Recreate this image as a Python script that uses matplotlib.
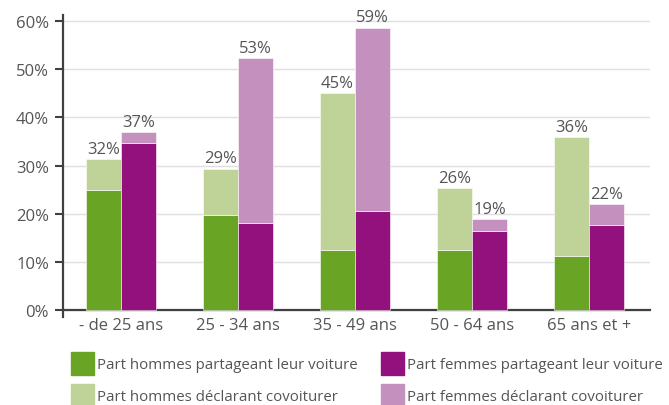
import numpy as np
import matplotlib
matplotlib.use("Agg")
import matplotlib.pyplot as plt
from matplotlib.patches import Patch

categories = ["- de 25 ans", "25 - 34 ans", "35 - 49 ans", "50 - 64 ans", "65 ans et +"]
men_share = [25.0, 19.8, 12.5, 12.5, 11.3]
men_total = [31.4, 29.4, 45.0, 25.4, 36.0]
women_share = [34.7, 18.1, 20.6, 16.5, 17.7]
women_total = [37.0, 52.3, 58.7, 18.9, 22.0]
men_labels = ["32%", "29%", "45%", "26%", "36%"]
women_labels = ["37%", "53%", "59%", "19%", "22%"]

GREEN = "#6aa425"
LGREEN = "#bfd298"
PURPLE = "#93117c"
LPURPLE = "#c491be"
TXT = "#555555"
AXC = "#404040"

plt.rcParams["font.family"] = ["Open Sans", "DejaVu Sans"]

fig = plt.figure(figsize=(6.69, 4.06), dpi=100)
ax = fig.add_axes([62.7 / 669, 1 - 318 / 406, (650 - 62.7) / 669, (318 - 16) / 406])

x = np.arange(len(categories))
w = 0.3
men_extra = np.array(men_total) - np.array(men_share)
women_extra = np.array(women_total) - np.array(women_share)

ax.bar(x - w / 2, men_share, w, color=GREEN, edgecolor="white", linewidth=0.4, zorder=3)
ax.bar(x - w / 2, men_extra, w, bottom=men_share, color=LGREEN, edgecolor="white", linewidth=0.4, zorder=3)
ax.bar(x + w / 2, women_share, w, color=PURPLE, edgecolor="white", linewidth=0.4, zorder=3)
ax.bar(x + w / 2, women_extra, w, bottom=women_share, color=LPURPLE, edgecolor="white", linewidth=0.4, zorder=3)

for i in range(len(categories)):
    ax.annotate(men_labels[i], (x[i] - w / 2, men_total[i]), xytext=(0, 1.5),
                textcoords="offset points", ha="center", va="bottom", fontsize=12, color=TXT)
    ax.annotate(women_labels[i], (x[i] + w / 2, women_total[i]), xytext=(0, 1.5),
                textcoords="offset points", ha="center", va="bottom", fontsize=12, color=TXT)

ax.set_xlim(-0.498, 4.52)
ax.set_ylim(-1.46, 61.3)
ax.set_yticks(range(0, 61, 10))
ax.set_yticklabels([f"{v}%" for v in range(0, 61, 10)])
ax.set_xticks(x)
ax.set_xticklabels(categories)
ax.tick_params(axis="y", length=5.5, width=1.5, color=AXC, pad=4.3, labelsize=12, labelcolor=TXT)
ax.tick_params(axis="x", length=0, pad=5, labelsize=12, labelcolor=TXT)

for s in ("top", "right"):
    ax.spines[s].set_visible(False)
ax.spines["bottom"].set_position(("data", 0))
for s in ("left", "bottom"):
    ax.spines[s].set_color(AXC)
    ax.spines[s].set_linewidth(1.6)
ax.yaxis.grid(True, color="#e0e0e0", lw=1, zorder=0)
ax.set_axisbelow(True)

leg_kw = dict(loc="upper left", frameon=False, fontsize=10.8, borderpad=0, borderaxespad=0,
              handlelength=1.53, handleheight=1.98, handletextpad=0.2, labelspacing=0.62,
              labelcolor=TXT)
fig.legend(handles=[Patch(color=GREEN, label="Part hommes partageant leur voiture"),
                    Patch(color=LGREEN, label="Part hommes déclarant covoiturer")],
           bbox_to_anchor=(71 / 669, 1 - 352.7 / 406), **leg_kw)
fig.legend(handles=[Patch(color=PURPLE, label="Part femmes partageant leur voiture"),
                    Patch(color=LPURPLE, label="Part femmes déclarant covoiturer")],
           bbox_to_anchor=(380.7 / 669, 1 - 352.7 / 406), **leg_kw)

fig.savefig("out.png", dpi=100)
